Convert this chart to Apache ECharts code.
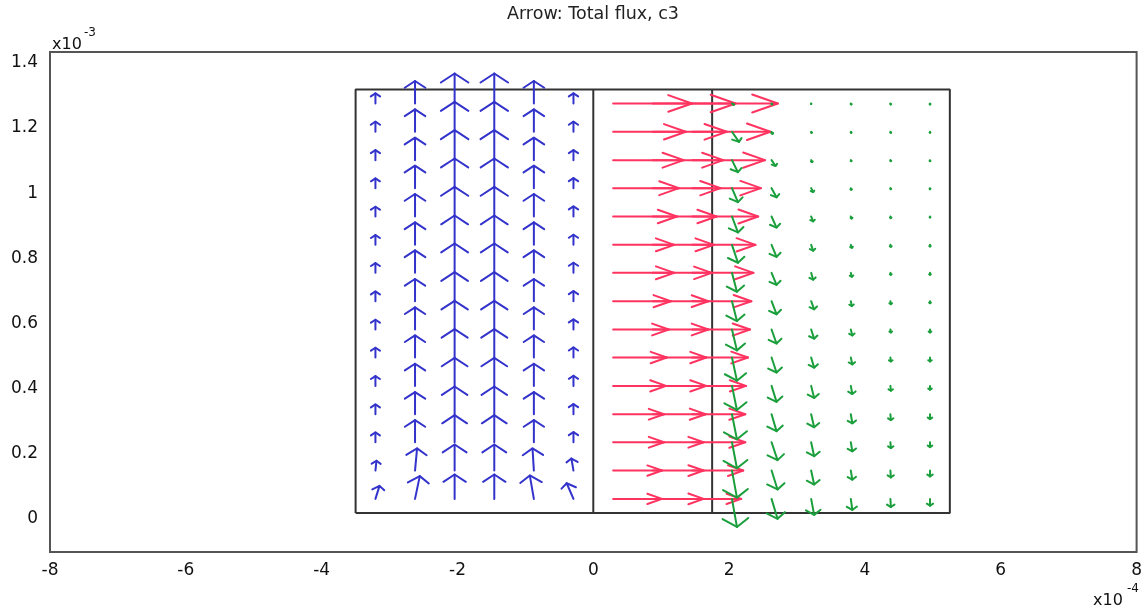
<!DOCTYPE html>
<html>
<head>
<meta charset="utf-8">
<script src="https://cdn.jsdelivr.net/npm/echarts@6/dist/echarts.min.js"></script>
<style>html,body{margin:0;padding:0;background:#fff}#c{width:1145px;height:608px}</style>
</head>
<body>
<div id="c"></div>
<script>
// ---- data (x in 1e-4 m, y in 1e-3 m) ----
const titleText = 'Arrow: Total flux, c3';
const xTicks = [-8, -6, -4, -2, 0, 2, 4, 6, 8];
const yTicks = [0, 0.2, 0.4, 0.6, 0.8, 1, 1.2, 1.4];
const boundaryX = [-3.5, 0, 1.75, 5.25];
const boundaryY = [0, 1.3];
const gridX = [-3.208, -2.625, -2.042, -1.458, -0.875, -0.292, 0.292, 0.875, 1.458, 2.042, 2.625, 3.208, 3.792, 4.375, 4.958];
const gridY = [0.043, 0.130, 0.217, 0.303, 0.390, 0.477, 0.563, 0.650, 0.737, 0.823, 0.910, 0.997, 1.083, 1.170, 1.257];
const blueCols = [0, 1, 2, 3, 4, 5];
const redCols = [6, 7, 8];
const greenCols = [9, 10, 11, 12, 13, 14];
// arrow components, rows bottom -> top
const blueU = [
  [0.06, 0.07, 0, 0, -0.06, -0.10],
  [0.015, 0.03, 0, 0, -0.02, -0.03],
  [0, 0, 0, 0, 0, 0], [0, 0, 0, 0, 0, 0], [0, 0, 0, 0, 0, 0], [0, 0, 0, 0, 0, 0],
  [0, 0, 0, 0, 0, 0], [0, 0, 0, 0, 0, 0], [0, 0, 0, 0, 0, 0], [0, 0, 0, 0, 0, 0],
  [0, 0, 0, 0, 0, 0], [0, 0, 0, 0, 0, 0], [0, 0, 0, 0, 0, 0], [0, 0, 0, 0, 0, 0],
  [0, 0, 0, 0, 0, 0]
];
const blueV = [
  [0.040, 0.070, 0.075, 0.075, 0.072, 0.048],
  [0.030, 0.068, 0.080, 0.080, 0.068, 0.037],
  [0.030, 0.068, 0.083, 0.083, 0.068, 0.031],
  [0.030, 0.068, 0.085, 0.085, 0.068, 0.031],
  [0.030, 0.068, 0.086, 0.086, 0.068, 0.031],
  [0.030, 0.068, 0.087, 0.087, 0.068, 0.031],
  [0.030, 0.068, 0.088, 0.088, 0.068, 0.031],
  [0.030, 0.068, 0.089, 0.089, 0.068, 0.031],
  [0.030, 0.069, 0.090, 0.090, 0.069, 0.031],
  [0.030, 0.069, 0.090, 0.090, 0.069, 0.031],
  [0.030, 0.069, 0.091, 0.091, 0.069, 0.031],
  [0.030, 0.069, 0.091, 0.091, 0.069, 0.031],
  [0.031, 0.069, 0.092, 0.092, 0.069, 0.031],
  [0.031, 0.069, 0.092, 0.092, 0.069, 0.031],
  [0.031, 0.069, 0.092, 0.092, 0.069, 0.031]
];
const redU = [
  [0.72, 0.75, 0.72], [0.72, 0.75, 0.75], [0.75, 0.75, 0.78], [0.75, 0.78, 0.78],
  [0.78, 0.79, 0.79], [0.79, 0.79, 0.82], [0.82, 0.82, 0.85], [0.85, 0.82, 0.87],
  [0.90, 0.87, 0.90], [0.90, 0.90, 0.93], [0.94, 0.94, 0.97], [0.97, 1.00, 1.01],
  [1.04, 1.04, 1.07], [1.07, 1.09, 1.15], [1.16, 1.22, 1.26]
];
const redV = [
  [0, 0, 0], [0, 0, 0], [0, 0, 0], [0, 0, 0], [0, 0, 0], [0, 0, 0], [0, 0, 0], [0, 0, 0],
  [0, 0, 0], [0, 0, 0], [0, 0, 0], [0, 0, 0], [0, 0, 0], [0, 0, 0], [0, 0, 0]
];
const greenU = [
  [0.073, 0.088, 0.044, 0.022, 0.007, 0],
  [0.073, 0.088, 0.044, 0.022, 0.007, 0],
  [0.073, 0.088, 0.044, 0.022, 0.007, 0],
  [0.073, 0.073, 0.044, 0.022, 0.007, 0],
  [0.073, 0.073, 0.044, 0.022, 0.007, 0],
  [0.073, 0.073, 0.044, 0.022, 0.007, 0],
  [0.073, 0.073, 0.044, 0.022, 0.007, 0],
  [0.073, 0.073, 0.044, 0.015, 0.007, 0],
  [0.073, 0.073, 0.029, 0.015, 0.007, 0],
  [0.088, 0.073, 0.029, 0.015, 0.007, 0],
  [0.088, 0.073, 0.029, 0.015, 0.007, 0],
  [0.088, 0.073, 0.029, 0.007, 0.007, 0],
  [0.088, 0.059, 0.015, 0.007, 0.007, 0],
  [0.103, 0.015, 0.007, 0.007, 0.007, 0],
  [0.030, 0.007, 0, 0.007, 0.007, 0]
];
const greenV = [
  [-0.086, -0.061, -0.049, -0.034, -0.025, -0.021],
  [-0.083, -0.058, -0.043, -0.028, -0.021, -0.018],
  [-0.080, -0.055, -0.043, -0.028, -0.018, -0.015],
  [-0.077, -0.052, -0.040, -0.028, -0.018, -0.015],
  [-0.074, -0.049, -0.037, -0.025, -0.015, -0.012],
  [-0.071, -0.046, -0.031, -0.021, -0.012, -0.012],
  [-0.064, -0.043, -0.028, -0.018, -0.009, -0.009],
  [-0.061, -0.040, -0.025, -0.015, -0.009, -0.006],
  [-0.058, -0.037, -0.021, -0.012, -0.006, -0.006],
  [-0.055, -0.037, -0.018, -0.009, -0.006, -0.005],
  [-0.049, -0.034, -0.015, -0.006, -0.005, -0.003],
  [-0.043, -0.028, -0.012, -0.005, -0.003, -0.003],
  [-0.037, -0.018, -0.006, -0.003, -0.003, -0.003],
  [-0.031, -0.006, -0.003, -0.003, -0.003, -0.003],
  [-0.004, -0.003, -0.0015, -0.003, -0.003, -0.003]
];

// ---- build ----
function buildArrows(cols, U, V) {
  const out = [];
  for (let r = 0; r < gridY.length; r++) {
    cols.forEach((c, ci) => {
      out.push([gridX[c], gridY[r], U[r][ci], V[r][ci]]);
    });
  }
  return out;
}
function arrowRenderer(color) {
  return function (params, api) {
    const x = api.value(0), y = api.value(1), u = api.value(2), v = api.value(3);
    const um = u * 1e-4, vm = v * 1e-3;
    const L = Math.hypot(um, vm);
    const p0 = api.coord([x, y]);
    const tx = x + u, ty = y + v;
    const p1 = api.coord([tx, ty]);
    const st = { stroke: color, lineWidth: 2, lineCap: 'round', lineJoin: 'round', fill: null };
    const children = [{ type: 'line', shape: { x1: p0[0], y1: p0[1], x2: p1[0], y2: p1[1] }, style: st }];
    if (L > 0) {
      const dx = um / L, dy = vm / L;
      const hd = 0.3 * L, hw = 0.22 * L;
      const bx = -dx * hd, by = -dy * hd, px = -dy * hw, py = dx * hw;
      const a = api.coord([tx + (bx + px) / 1e-4, ty + (by + py) / 1e-3]);
      const b = api.coord([tx + (bx - px) / 1e-4, ty + (by - py) / 1e-3]);
      children.push({ type: 'polyline', shape: { points: [a, p1, b] }, style: st });
    }
    return { type: 'group', children: children };
  };
}

const xL = boundaryX[0], xR = boundaryX[boundaryX.length - 1], yB = boundaryY[0], yT = boundaryY[1];
const outline = [[xL, yB], [xR, yB], [xR, yT], [xL, yT], [xL, yB]];
const dividers = boundaryX.slice(1, -1).map(bx => [[bx, yB], [bx, yT]]);

const geomStyle = { color: '#333333', width: 2 };
const series = [
  { type: 'line', data: outline, symbol: 'none', lineStyle: geomStyle, z: 1, silent: true }
].concat(dividers.map(d => ({ type: 'line', data: d, symbol: 'none', lineStyle: geomStyle, z: 1, silent: true })))
 .concat([
  { type: 'custom', data: buildArrows(blueCols, blueU, blueV), renderItem: arrowRenderer('#3333cc'), z: 3, silent: true },
  { type: 'custom', data: buildArrows(redCols, redU, redV), renderItem: arrowRenderer('#ff3360'), z: 4, silent: true },
  { type: 'custom', data: buildArrows(greenCols, greenU, greenV), renderItem: arrowRenderer('#1a9f3c'), z: 5, silent: true }
]);

const font = 'DejaVu Sans';
const chart = echarts.init(document.getElementById('c'), null, { renderer: 'canvas' });
chart.setOption({
  animation: false,
  backgroundColor: '#ffffff',
  title: {
    text: titleText, left: 588, top: 0, textAlign: 'center',
    textStyle: { fontSize: 17.5, fontWeight: 'normal', fontFamily: font, color: '#222' }
  },
  grid: { left: 50, right: 6, top: 52, bottom: 56, show: true, borderColor: '#555', borderWidth: 2, backgroundColor: 'transparent' },
  xAxis: {
    type: 'value', min: xTicks[0], max: xTicks[xTicks.length - 1], interval: 2,
    axisLine: { show: false }, axisTick: { show: false }, splitLine: { show: false },
    axisLabel: { fontSize: 17, fontFamily: font, color: '#111', margin: 10, showMinLabel: true, showMaxLabel: true }
  },
  yAxis: {
    type: 'value', min: -0.12, max: 1.415,
    axisLine: { show: false }, axisTick: { show: false }, splitLine: { show: false },
    axisLabel: {
      customValues: yTicks, fontSize: 17, fontFamily: font, color: '#111', margin: 12,
      verticalAlign: 'top', lineHeight: 12,
      formatter: v => String(Math.round(v * 10) / 10)
    }
  },
  graphic: [
    { type: 'text', left: 52, top: 37, style: { text: 'x10', fontSize: 16, fontFamily: font, fill: '#111' } },
    { type: 'text', left: 84, top: 27, style: { text: '-3', fontSize: 12, fontFamily: font, fill: '#111' } },
    { type: 'text', left: 1093, top: 593, style: { text: 'x10', fontSize: 16, fontFamily: font, fill: '#111' } },
    { type: 'text', left: 1127, top: 583, style: { text: '-4', fontSize: 12, fontFamily: font, fill: '#111' } }
  ],
  series: series
});
</script>
</body>
</html>
